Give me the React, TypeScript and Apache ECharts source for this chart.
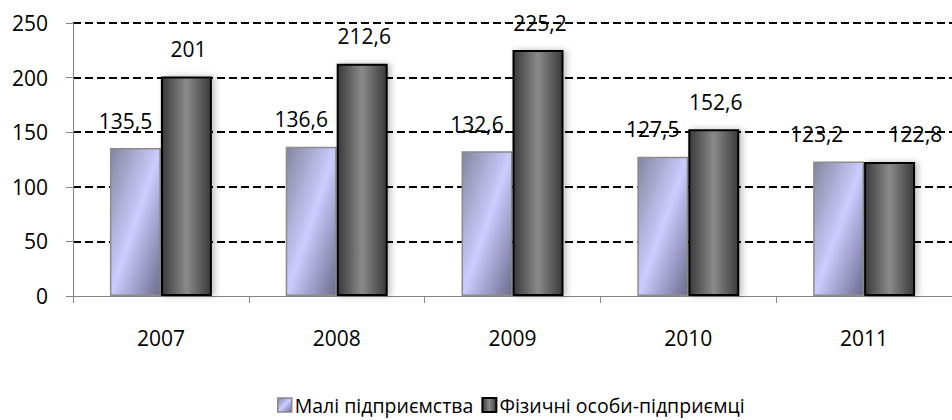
import React, { useEffect, useRef } from "react";
import * as echarts from "echarts";

const categories = ["2007", "2008", "2009", "2010", "2011"];
const smallEnterprises = [135.5, 136.6, 132.6, 127.5, 123.2];
const individualEntrepreneurs = [201, 212.6, 225.2, 152.6, 122.8];
const seriesNames = ["Малі підприємства", "Фізичні особи-підприємці"];

const FONT = "'Open Sans', 'Noto Sans', sans-serif";

export default function App() {
  const ref = useRef<HTMLDivElement>(null);
  useEffect(() => {
    document.body.style.margin = "0";
    const chart = echarts.init(ref.current!, null, { renderer: "svg" });
    const lightFill = new echarts.graphic.LinearGradient(0, 0, 1, 1, [
      { offset: 0, color: "#85859e" },
      { offset: 0.5, color: "#ccccff" },
      { offset: 1, color: "#6c6c8e" },
    ]);
    const darkFill = new echarts.graphic.LinearGradient(0, 0, 1, 0, [
      { offset: 0, color: "#3a3a3a" },
      { offset: 0.5, color: "#8a8a8a" },
      { offset: 1, color: "#3a3a3a" },
    ]);
    const fmt = (p: any) => String(p.value).replace(".", ",");
    const last = categories.length - 1;
    const lightData = smallEnterprises.map((v, i) => ({
      value: v,
      label: { offset: [i === last ? -22 : -10, 0] },
    }));
    const darkData = individualEntrepreneurs.map((v, i) => ({
      value: v,
      label: { offset: [i === last ? 26 : 2, 0] },
    }));
    chart.setOption({
      animation: false,
      textStyle: { fontFamily: FONT },
      grid: { left: 73, right: 0, top: 23, bottom: 124, containLabel: false },
      legend: {
        bottom: 0,
        left: 272,
        itemWidth: 14,
        itemHeight: 14,
        itemGap: 8,
        textStyle: { fontSize: 19.5, color: "#000", fontFamily: FONT, padding: [0, 0, 0, -2] },
        data: [
          { name: seriesNames[0], icon: "rect", itemStyle: { color: lightFill, borderColor: "#888", borderWidth: 1.5 } },
          { name: seriesNames[1], icon: "rect", itemStyle: { color: darkFill, borderColor: "#000", borderWidth: 2 } },
        ],
      },
      xAxis: {
        type: "category",
        data: categories,
        axisLine: { lineStyle: { color: "#868686", width: 1 } },
        axisTick: { show: true, alignWithLabel: false, length: 7, lineStyle: { color: "#868686" } },
        axisLabel: { color: "#000", fontSize: 21, margin: 31, fontFamily: FONT },
      },
      yAxis: {
        type: "value",
        min: 0,
        max: 250,
        interval: 50,
        axisLine: { show: true, lineStyle: { color: "#868686", width: 1 } },
        axisTick: { show: true, length: 7, lineStyle: { color: "#868686" } },
        axisLabel: { color: "#000", fontSize: 21, margin: 25, fontFamily: FONT },
        splitLine: {
          show: true,
          lineStyle: { color: ["rgba(0,0,0,0)", "#000", "#000", "#000", "#000", "#000"], type: [8, 4], width: 1.8 },
        },
      },
      series: [
        {
          name: seriesNames[0],
          type: "bar",
          data: lightData,
          barGap: "0%",
          barCategoryGap: "42%",
          itemStyle: { color: lightFill, borderColor: "#8c8c8c", borderWidth: 1.5 },
          label: { show: true, position: "top", distance: 17, color: "#000", fontSize: 21, formatter: fmt, fontFamily: FONT },
        },
        {
          name: seriesNames[1],
          type: "bar",
          data: darkData,
          itemStyle: {
            color: darkFill,
            borderColor: "#000",
            borderWidth: 2,
            shadowColor: "rgba(0,0,0,0.25)",
            shadowBlur: 6,
            shadowOffsetX: 3,
          },
          label: { show: true, position: "top", distance: 17, color: "#000", fontSize: 21, formatter: fmt, fontFamily: FONT },
        },
      ],
    });
    return () => chart.dispose();
  }, []);
  return <div ref={ref} style={{ width: 952, height: 420 }} />;
}
